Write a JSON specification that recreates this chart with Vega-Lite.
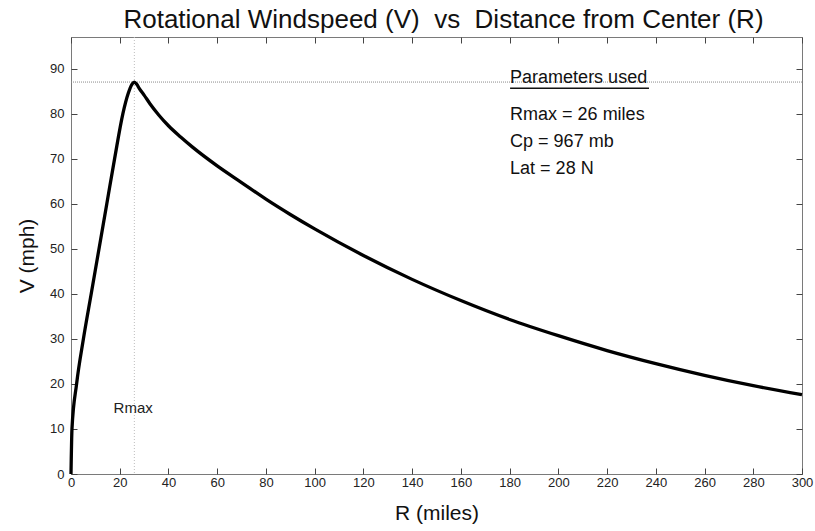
{
  "$schema": "https://vega.github.io/schema/vega-lite/v6.json",
  "width": 731,
  "height": 437,
  "autosize": {"type": "none"},
  "padding": {"left": 71, "top": 37, "right": 13, "bottom": 57},
  "background": "white",
  "config": {
    "font": "Liberation Sans",
    "view": {"stroke": "#7a7a7a", "strokeWidth": 1},
    "axis": {"grid": false, "domain": false, "labelFlush": false, "labelOverlap": false}
  },
  "title": {
    "text": "Rotational Windspeed (V)\u00a0 vs\u00a0 Distance from Center (R)",
    "font": "Liberation Sans",
    "fontSize": 26,
    "fontWeight": "normal",
    "color": "#111111",
    "anchor": "middle",
    "offset": 4,
    "dx": 7
  },
  "datasets": {
    "profile": [
      {"R": 0, "V": 0},
      {"R": 0.4, "V": 10},
      {"R": 2.3, "V": 20},
      {"R": 5.1, "V": 30},
      {"R": 8.3, "V": 40},
      {"R": 11.5, "V": 50},
      {"R": 14.7, "V": 60},
      {"R": 17.9, "V": 70},
      {"R": 21.3, "V": 80},
      {"R": 23.5, "V": 84.5},
      {"R": 25, "V": 86.5},
      {"R": 26, "V": 87},
      {"R": 27, "V": 86.5},
      {"R": 28, "V": 85.6},
      {"R": 30, "V": 84.1},
      {"R": 32.4, "V": 82.2},
      {"R": 36, "V": 79.7},
      {"R": 40, "V": 77.3},
      {"R": 45, "V": 74.8},
      {"R": 50, "V": 72.5},
      {"R": 60, "V": 68.4},
      {"R": 70, "V": 64.7},
      {"R": 80, "V": 61.0},
      {"R": 90, "V": 57.6},
      {"R": 100, "V": 54.4},
      {"R": 120, "V": 48.5},
      {"R": 140, "V": 43.2},
      {"R": 160, "V": 38.5},
      {"R": 180, "V": 34.3},
      {"R": 200, "V": 30.7},
      {"R": 220, "V": 27.4},
      {"R": 240, "V": 24.5},
      {"R": 260, "V": 21.9},
      {"R": 280, "V": 19.6},
      {"R": 300, "V": 17.6}
    ],
    "params": [
      {"R": 180.2, "V": 86.7, "label": "Parameters used"},
      {"R": 180.2, "V": 78.5, "label": "Rmax = 26 miles"},
      {"R": 180.2, "V": 72.6, "label": "Cp = 967 mb"},
      {"R": 180.2, "V": 66.7, "label": "Lat = 28 N"}
    ],
    "one": [{"k": 1}]
  },
  "resolve": {"axis": {"x": "independent", "y": "independent"}},
  "layer": [
    {
      "data": {"name": "one"},
      "mark": {"type": "rule", "color": "#bdbdbd", "strokeWidth": 1, "strokeDash": [1, 2]},
      "encoding": {"x": {"datum": 26, "type": "quantitative", "axis": null}}
    },
    {
      "data": {"name": "one"},
      "mark": {"type": "rule", "color": "#8a8a8a", "strokeWidth": 1, "strokeDash": [1, 1]},
      "encoding": {"y": {"datum": 87, "type": "quantitative", "axis": null}}
    },
    {
      "data": {"name": "profile"},
      "mark": {"type": "line", "color": "#000000", "strokeWidth": 3.3, "interpolate": "monotone"},
      "encoding": {
        "x": {
          "field": "R", "type": "quantitative",
          "scale": {"domain": [0, 300], "nice": false},
          "axis": {
            "orient": "bottom",
            "values": [0, 20, 40, 60, 80, 100, 120, 140, 160, 180, 200, 220, 240, 260, 280, 300],
            "tickSize": -6, "tickColor": "#444444", "tickWidth": 1,
            "labelFontSize": 13, "labelColor": "#222222", "labelPadding": 8,
            "title": "R (miles)", "titleFontSize": 21, "titleFontWeight": "normal",
            "titleColor": "#111111", "titlePadding": 13
          }
        },
        "y": {
          "field": "V", "type": "quantitative",
          "scale": {"domain": [0, 97], "nice": false},
          "axis": {
            "orient": "left",
            "values": [0, 10, 20, 30, 40, 50, 60, 70, 80, 90],
            "tickSize": -6, "tickColor": "#444444", "tickWidth": 1,
            "labelFontSize": 13, "labelColor": "#222222", "labelPadding": 13,
            "title": "V (mph)", "titleFontSize": 21, "titleFontWeight": "normal",
            "titleColor": "#111111", "titlePadding": 12
          }
        }
      }
    },
    {
      "data": {"name": "profile"},
      "mark": {"type": "line", "opacity": 0},
      "encoding": {
        "x": {
          "field": "R", "type": "quantitative",
          "axis": {
            "orient": "top",
            "values": [0, 20, 40, 60, 80, 100, 120, 140, 160, 180, 200, 220, 240, 260, 280, 300],
            "tickSize": -6, "tickColor": "#444444", "labels": false, "title": null
          }
        },
        "y": {
          "field": "V", "type": "quantitative",
          "axis": {
            "orient": "right",
            "values": [0, 10, 20, 30, 40, 50, 60, 70, 80, 90],
            "tickSize": -6, "tickColor": "#444444", "labels": false, "title": null
          }
        }
      }
    },
    {
      "data": {"name": "one"},
      "mark": {"type": "text", "fontSize": 15, "color": "#222222", "align": "center", "baseline": "alphabetic"},
      "encoding": {
        "x": {"datum": 25.5, "type": "quantitative", "axis": null},
        "y": {"datum": 13.6, "type": "quantitative", "axis": null},
        "text": {"value": "Rmax"}
      }
    },
    {
      "data": {"name": "params"},
      "mark": {"type": "text", "fontSize": 18, "color": "#111111", "align": "left", "baseline": "alphabetic"},
      "encoding": {
        "x": {"field": "R", "type": "quantitative", "axis": null},
        "y": {"field": "V", "type": "quantitative", "axis": null},
        "text": {"field": "label"}
      }
    },
    {
      "data": {"name": "one"},
      "mark": {"type": "rule", "color": "#111111", "strokeWidth": 1.5},
      "encoding": {
        "x": {"datum": 180.2, "type": "quantitative", "axis": null},
        "x2": {"datum": 237.2},
        "y": {"datum": 85.6, "type": "quantitative", "axis": null}
      }
    }
  ]
}
